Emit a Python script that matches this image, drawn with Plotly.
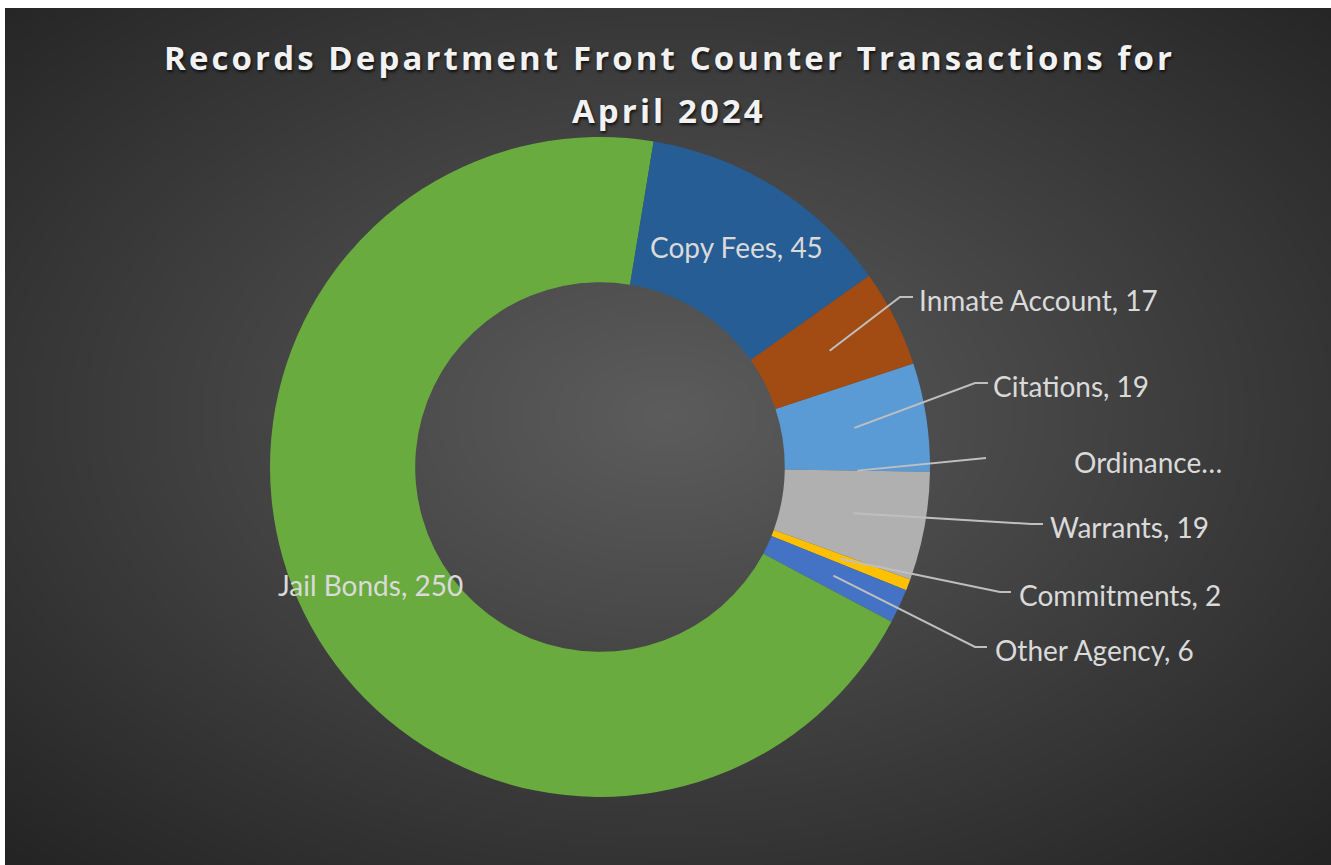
import numpy as np
import plotly.graph_objects as go

# ---- data -------------------------------------------------------------
categories = ["Citations", "Ordinance Violations", "Warrants", "Commitments",
              "Other Agency", "Jail Bonds", "Copy Fees", "Inmate Account"]
transactions = [19, 0, 19, 2, 6, 250, 45, 17]
short_names = {"Ordinance Violations": "Ordinance…"}

title_lines = ["Records Department Front Counter Transactions for", "April 2024"]

slice_colors = ["#5b9bd5", "#ed7d31", "#b0b0b0", "#ffc000",
                "#4472c4", "#6aab3f", "#265d95", "#a24b12"]

# ---- canvas / geometry --------------------------------------------------
W, H = 1331, 865
CX, CY = 600, 467          # pie centre in pixels
R_OUT = 330
HOLE = 0.56
ROTATION = 71.7            # start angle of the first slice (deg, clockwise from 12 o'clock)
LABEL_FONT = "Lato"
LABEL_SIZE = 28
LABEL_COLOR = "#dadada"


def px(x):
    return x / W


def py(y):
    return 1 - y / H


# mid-angle of every slice, derived from the values
total = float(sum(transactions))
bounds = ROTATION + np.concatenate([[0], np.cumsum(transactions)]) / total * 360.0
mid_angles = (bounds[:-1] + bounds[1:]) / 2.0
r_mid = R_OUT * (1 + HOLE) / 2.0


def slice_point(i):
    a = np.deg2rad(mid_angles[i])
    return CX + r_mid * np.sin(a), CY - r_mid * np.cos(a)


def label_text(i):
    name = categories[i]
    if name in short_names:
        return short_names[name]
    return f"{name}, {transactions[i]}"


# ---- background: radial grey gradient ----------------------------------
gx = np.linspace(0, 1, 160)
gy = np.linspace(0, 1, 100)
GX, GY = np.meshgrid(gx, gy)
dist = np.sqrt(((GX - 0.5) / 0.5) ** 2 + ((GY - 0.52) / 0.5) ** 2) / np.sqrt(2)
shade = 1 - np.clip(dist, 0, 1)

fig = go.Figure()
fig.add_trace(go.Heatmap(
    x=gx, y=gy, z=shade, zmin=0, zmax=1, zsmooth="best",
    colorscale=[[0, "#242424"], [1, "#5c5c5c"]],
    showscale=False, hoverinfo="skip",
))

# ---- donut --------------------------------------------------------------
fig.add_trace(go.Pie(
    labels=categories, values=transactions,
    hole=HOLE, sort=False, direction="clockwise", rotation=ROTATION,
    marker=dict(colors=slice_colors, line=dict(width=0)),
    textinfo="none", hoverinfo="label+value", showlegend=False,
    domain=dict(x=[px(CX - R_OUT), px(CX + R_OUT)],
                y=[py(CY + R_OUT), py(CY - R_OUT)]),
))

annotations = []
shapes = []

# title, two centred lines with widened letter spacing
for line, ty in zip(title_lines, (58, 110)):
    annotations.append(dict(
        x=px(669), y=py(ty), xref="paper", yref="paper",
        text=f'<span style="letter-spacing:3.1px">{line}</span>',
        showarrow=False, xanchor="center", yanchor="middle",
        font=dict(family="Open Sans", size=33, color="#f2f2f2", weight=700,
                  shadow="1px 2px 3px rgba(0,0,0,0.75)"),
    ))

# labels placed inside their slices
inside = {"Copy Fees": (736, 247), "Jail Bonds": (371, 585)}
for name, (tx, ty) in inside.items():
    i = categories.index(name)
    annotations.append(dict(
        x=px(tx), y=py(ty), xref="paper", yref="paper", text=label_text(i),
        showarrow=False, xanchor="center", yanchor="middle",
        font=dict(family=LABEL_FONT, size=LABEL_SIZE, color=LABEL_COLOR),
    ))

# callout labels with leader lines: elbow point, end of horizontal tick, text left
callouts = {
    "Inmate Account": ((900, 297), 913, 917, 300),
    "Citations": ((975, 383), 988, 991, 386),
    "Ordinance Violations": ((986, 458), 986, 1072, 462),
    "Warrants": ((1031, 524), 1043, 1048, 527),
    "Commitments": ((1000, 592), 1011, 1017, 595),
    "Other Agency": ((975, 647), 987, 993, 650),
}
for name, ((ex, ey), hx, tx, ty) in callouts.items():
    i = categories.index(name)
    sx, sy = slice_point(i)
    shapes.append(dict(
        type="path", xref="paper", yref="paper", layer="above",
        path=f"M {px(sx)} {py(sy)} L {px(ex)} {py(ey)} L {px(hx)} {py(ey)}",
        line=dict(color="#bfbfbf", width=2),
    ))
    annotations.append(dict(
        x=px(tx), y=py(ty), xref="paper", yref="paper", text=label_text(i),
        showarrow=False, xanchor="left", yanchor="middle",
        font=dict(family=LABEL_FONT, size=LABEL_SIZE, color=LABEL_COLOR),
    ))

# white border strip along the top and left edges
shapes.append(dict(type="rect", xref="paper", yref="paper", x0=0, x1=1,
                   y0=py(8), y1=1, fillcolor="white", line=dict(width=0),
                   layer="above"))
shapes.append(dict(type="rect", xref="paper", yref="paper", x0=0, x1=px(5),
                   y0=0, y1=1, fillcolor="white", line=dict(width=0),
                   layer="above"))

fig.update_layout(
    width=W, height=H,
    margin=dict(l=0, r=0, t=0, b=0),
    paper_bgcolor="white", plot_bgcolor="#333333",
    xaxis=dict(visible=False, range=[0, 1], domain=[0, 1], fixedrange=True),
    yaxis=dict(visible=False, range=[0, 1], domain=[0, 1], fixedrange=True),
    annotations=annotations,
    shapes=shapes,
)

fig.write_html("out.html")
